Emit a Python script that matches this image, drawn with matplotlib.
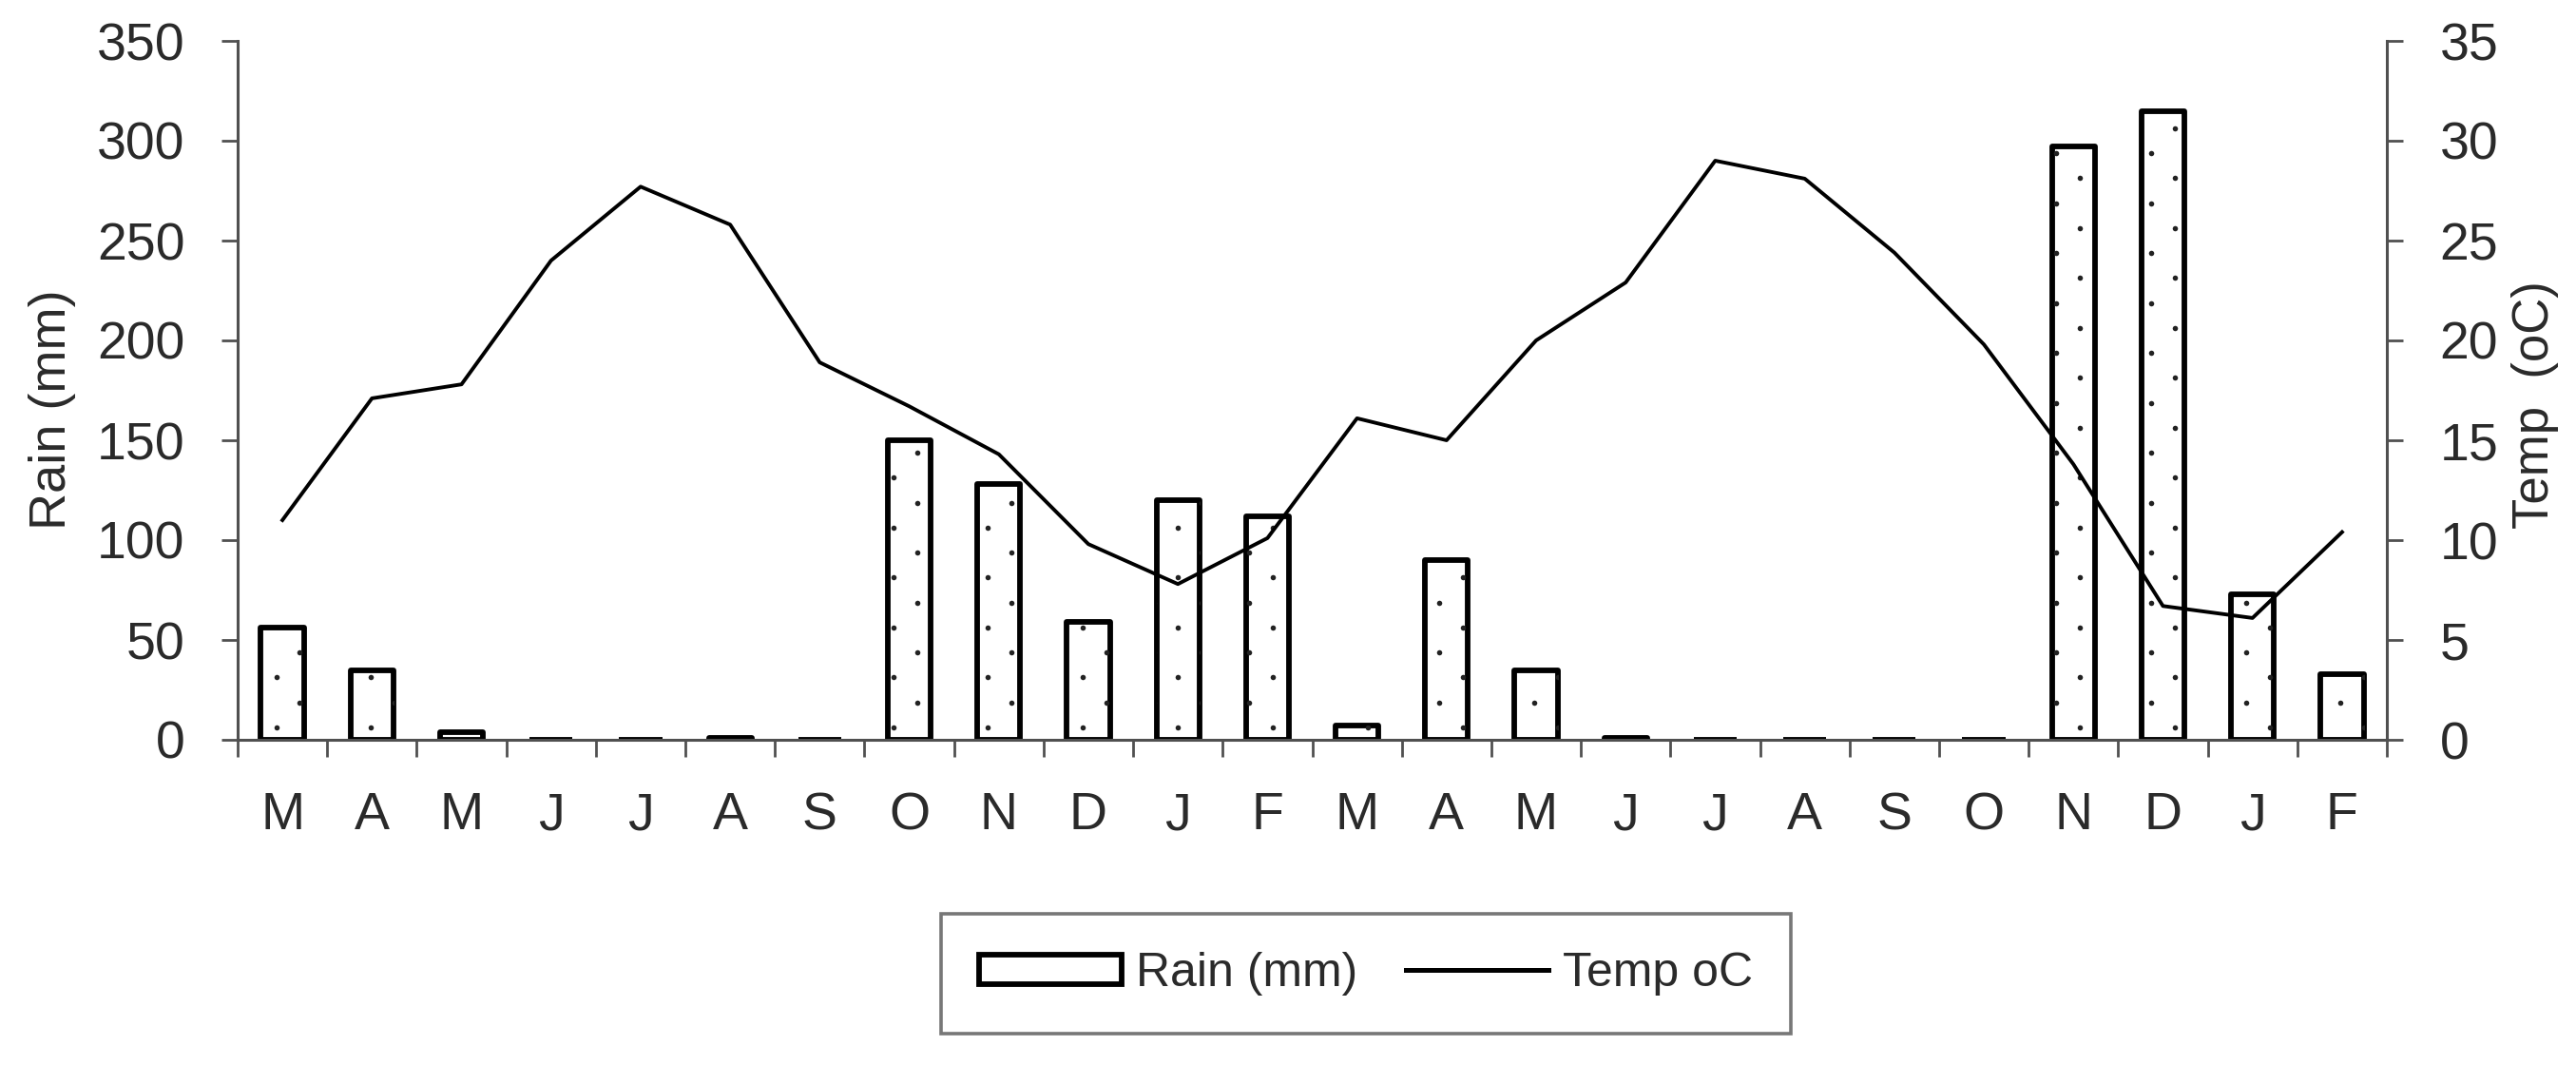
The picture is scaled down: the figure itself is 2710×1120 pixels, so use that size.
import matplotlib
matplotlib.use("Agg")
import matplotlib.pyplot as plt
import numpy as np
from matplotlib.lines import Line2D
from matplotlib.patches import Rectangle

months = ["M", "A", "M", "J", "J", "A", "S", "O", "N", "D", "J", "F",
          "M", "A", "M", "J", "J", "A", "S", "O", "N", "D", "J", "F"]
rain_mm = [56, 35, 4, 0, 0, 1, 0, 150, 128, 59, 120, 112,
           7, 90, 35, 1, 0, 0, 0, 0, 297, 315, 73, 33]
temp_c = [11.0, 17.1, 17.8, 24.0, 27.7, 25.8, 18.9, 16.7, 14.3, 9.8, 7.8, 10.1,
          16.1, 15.0, 20.0, 22.9, 29.0, 28.1, 24.4, 19.8, 13.8, 6.7, 6.1, 10.4]
rain_ticks = [0, 50, 100, 150, 200, 250, 300, 350]
temp_ticks = [0, 5, 10, 15, 20, 25, 30, 35]

plt.rcParams['font.family'] = ['Liberation Sans', 'DejaVu Sans']

W, H = 2710, 1120
fig = plt.figure(figsize=(W / 100, H / 100), dpi=100)
fig.patch.set_facecolor('white')
L, R, T, B = 250, 2511, 43, 778
ax = fig.add_axes([L / W, 1 - B / H, (R - L) / W, (B - T) / H])
ax2 = ax.twinx()

spine_col = '#505050'
text_col = '#2a2a2a'
n = len(months)
x = np.arange(n)
bw = 0.48

bars = ax.bar(x, rain_mm, width=bw, facecolor='white', edgecolor='black',
              linewidth=4.2, zorder=2)
for b in bars:
    b.set_joinstyle('round')

# sparse dotted fill (global staggered grid), clipped to each bar
px, py, x0 = 0.53, 12.5, 0.195
for xi, b in zip(x, bars):
    h = b.get_height()
    if h <= 0:
        continue
    xs, ys = [], []
    k = 0
    yv = py / 2
    while yv < h:
        off = x0 + (0 if k % 2 == 1 else px / 2)
        gx = np.arange(off - px * 2, n + 2, px)
        sel = gx[(gx > xi - bw / 2 - 0.03) & (gx < xi + bw / 2 + 0.03)]
        xs.extend(sel)
        ys.extend([yv] * len(sel))
        yv += py
        k += 1
    if xs:
        sc = ax.scatter(xs, ys, s=16, color='#222222', zorder=3, linewidths=0)
        sc.set_clip_path(b)

ax.plot(x, np.array(temp_c) * 10, color='black', linewidth=2.8, zorder=4)

ax.set_xlim(-0.5, n - 0.5)
ax.set_ylim(0, 350)
ax2.set_ylim(0, 35)
ax.set_yticks(rain_ticks)
ax2.set_yticks(temp_ticks)

ax.set_xticks(x)
ax.set_xticklabels(months)
ax.set_xticks(np.arange(-0.5, n, 1.0), minor=True)
ax.tick_params(axis='x', which='major', length=0, pad=39, labelsize=40, labelcolor=text_col)
ax.tick_params(axis='x', which='minor', length=13, width=2.0, color=spine_col, direction='out')
ax.tick_params(axis='y', length=12, width=2.0, color=spine_col, direction='out', pad=28,
               labelsize=40, labelcolor=text_col)
ax2.tick_params(axis='y', length=12, width=2.0, color=spine_col, direction='out', pad=28,
                labelsize=40, labelcolor=text_col)

for a in (ax, ax2):
    a.spines['top'].set_visible(False)
    for s in a.spines.values():
        s.set_color(spine_col)
        s.set_linewidth(2.2)
ax.spines['right'].set_visible(False)
ax2.spines['left'].set_visible(False)
ax2.spines['bottom'].set_visible(False)

ax.set_ylabel("Rain (mm)", fontsize=39, color=text_col)
ax.yaxis.set_label_coords(-0.075, 0.473)
ax2.set_ylabel("Temp  (oC)", fontsize=38, color=text_col)
ax2.yaxis.set_label_coords(1.058, 0.48)

ax.set_zorder(ax2.get_zorder() + 1)
ax.patch.set_visible(False)

h_rain = Rectangle((0, 0), 1, 1, facecolor='white', edgecolor='black', linewidth=4.2)
h_temp = Line2D([], [], color='black', linewidth=3.6)
leg = fig.legend([h_rain, h_temp], ["Rain (mm)", "Temp oC"], loc='center',
                 bbox_to_anchor=(1437 / W, 1 - 1024 / H), ncol=2, fontsize=36,
                 frameon=True, fancybox=False, edgecolor='#555555',
                 handlelength=3.0, handleheight=0.6, handletextpad=0.3,
                 columnspacing=1.0, borderpad=0.8, borderaxespad=0)
leg.get_frame().set_linewidth(2.6)
for t in leg.get_texts():
    t.set_color(text_col)

fig.savefig("out.png", dpi=100, facecolor='white')
